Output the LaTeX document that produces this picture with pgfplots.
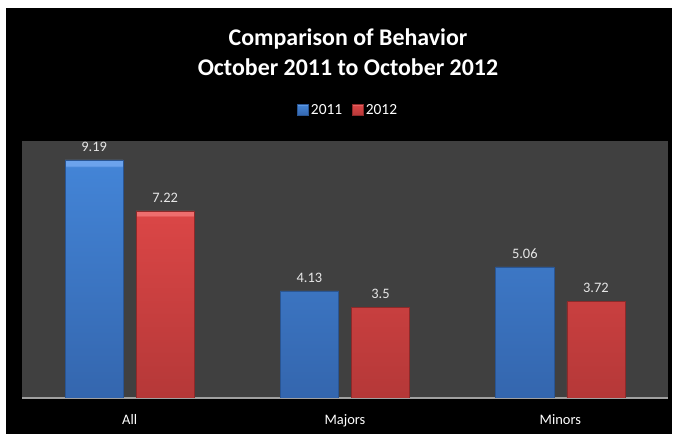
\documentclass[border=0pt]{standalone}
\usepackage{fontspec}
\setmainfont{Carlito}
\usepackage{pgfplots}
\pgfplotsset{compat=1.18}

\definecolor{plotbg}{HTML}{404040}
\definecolor{axisgray}{HTML}{A0A0A0}
\definecolor{labelgray}{HTML}{E6E6E6}
\definecolor{bluetop}{HTML}{4384D6}
\definecolor{bluebot}{HTML}{3466AE}
\definecolor{bluebevel}{HTML}{6CA3EC}
\definecolor{blueedge}{HTML}{2A5592}
\definecolor{redtop}{HTML}{DA4646}
\definecolor{redbot}{HTML}{B53838}
\definecolor{redbevel}{HTML}{EE6E6E}
\definecolor{rededge}{HTML}{8C2A2A}

% tikz maps 25bp..75bp of a shading onto the bar: gradient plus a light band on top
\pgfdeclareverticalshading{bluebar}{100bp}{color(0bp)=(bluebot); color(25bp)=(bluebot);
  color(73.5bp)=(bluetop); color(73.8bp)=(bluebevel); color(75bp)=(bluebevel); color(100bp)=(bluebevel)}
\pgfdeclareverticalshading{redbar}{100bp}{color(0bp)=(redbot); color(25bp)=(redbot);
  color(73.5bp)=(redtop); color(73.8bp)=(redbevel); color(75bp)=(redbevel); color(100bp)=(redbevel)}

\begin{document}
\begin{tikzpicture}[x=1bp,y=1bp]
\fill[white] (0,0) rectangle (681,434);
\fill[black] (6,0) rectangle (672,426);

\node[white, anchor=base, font=\bfseries\fontsize{24}{30}\selectfont] at (348,388) {Comparison of Behavior};
\node[white, anchor=base, font=\bfseries\fontsize{24}{30}\selectfont] at (348,358) {October 2011 to October 2012};

\begin{axis}[
    at={(22bp,36bp)}, anchor=south west,
    scale only axis, width=646bp, height=257bp,
    axis background/.style={fill=plotbg},
    axis x line=bottom, axis y line=none,
    x axis line style={-, draw=axisgray, line width=1.5bp},
    xmin=-0.5, xmax=2.5, ymin=0, ymax=9.92,
    xtick={0,1,2}, xticklabels={All,Majors,Minors},
    major tick length=0pt,
    xticklabel style={text=white, font=\fontsize{14.5}{16}\selectfont, yshift=-13bp},
    ybar, bar width=0.27,
    /pgf/number format/assume math mode=true,
    nodes near coords,
    nodes near coords style={text=labelgray, font=\fontsize{14.5}{16}\selectfont, yshift=5bp},
    legend columns=2,
    legend style={at={(axis description cs:0.505,1.12)}, anchor=center,
        draw=none, fill=none, text=white, font=\fontsize{15.5}{17}\selectfont,
        /tikz/every even column/.append style={column sep=8bp}},
    legend image code/.code={\fill[#1] (0bp,-5.5bp) rectangle (11bp,5.5bp);},
]
\addplot[bar shift=-0.165, shade, shading=bluebar, draw=blueedge, line width=0.6bp]
    coordinates {(0,9.19) (1,4.13) (2,5.06)};
\addplot[bar shift=0.165, shade, shading=redbar, draw=rededge, line width=0.6bp]
    coordinates {(0,7.22) (1,3.5) (2,3.72)};
\legend{2011,2012}
\end{axis}
\pgfresetboundingbox
\path[use as bounding box] (0,0) rectangle (681,434);
\end{tikzpicture}
\end{document}
